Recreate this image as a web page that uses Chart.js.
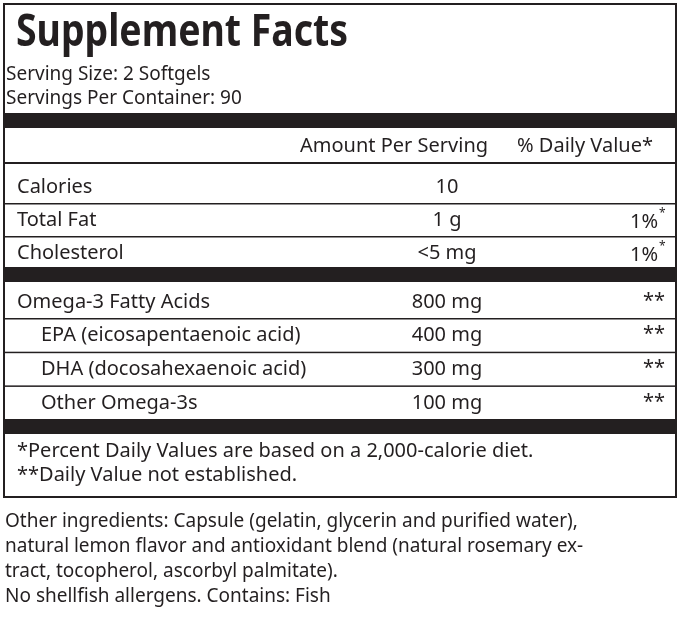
<!DOCTYPE html>
<html>
<head>
<meta charset="utf-8">
<script src="https://cdn.jsdelivr.net/npm/chart.js@4"></script>
<style>
  html, body { margin: 0; padding: 0; background: #fff; }
  #label { display: block; }
</style>
</head>
<body>
<canvas id="label" width="679" height="619"></canvas>
<script>
const title = "Supplement Facts";
const servingLines = ["Serving Size: 2 Softgels", "Servings Per Container: 90"];
const headerCols = ["Amount Per Serving", "% Daily Value*"];

const groupOneNames = ["Calories", "Total Fat", "Cholesterol"];
const groupOneAmounts = ["10", "1 g", "<5 mg"];
const groupOneDaily = ["", "1%", "1%"];

const groupTwoNames = ["Omega-3 Fatty Acids", "EPA (eicosapentaenoic acid)", "DHA (docosahexaenoic acid)", "Other Omega-3s"];
const groupTwoAmounts = ["800 mg", "400 mg", "300 mg", "100 mg"];
const groupTwoDaily = ["**", "**", "**", "**"];
const groupTwoIndent = [false, true, true, true];

const footnotes = ["*Percent Daily Values are based on a 2,000-calorie diet.", "**Daily Value not established."];
const ingredients = [
  "Other ingredients: Capsule (gelatin, glycerin and purified water),",
  "natural lemon flavor and antioxidant blend (natural rosemary ex-",
  "tract, tocopherol, ascorbyl palmitate).",
  "No shellfish allergens. Contains: Fish"
];

const FONT = '"Noto Sans", sans-serif';
const INK = "#231f20";

const labelPlugin = {
  id: "labelPlugin",
  afterDraw(chart) {
    const ctx = chart.ctx;
    ctx.save();
    ctx.fillStyle = "#fff";
    ctx.fillRect(0, 0, 679, 619);
    ctx.fillStyle = INK;
    ctx.strokeStyle = INK;
    ctx.textBaseline = "middle";

    // outer box
    ctx.lineWidth = 2;
    ctx.strokeRect(4, 4, 672, 493);

    ctx.font = "bold 44px " + FONT;
    ctx.textAlign = "left";
    ctx.fillText(title, 16, 33, 332);

    ctx.font = "19px " + FONT;
    ctx.fillText(servingLines[0], 6, 75, 242);
    ctx.fillText(servingLines[1], 6, 99, 264);

    ctx.fillRect(5, 113, 670, 15);

    ctx.font = "20px " + FONT;
    ctx.fillText(headerCols[0], 300, 146, 192);
    ctx.fillText(headerCols[1], 517, 146, 145);
    ctx.fillRect(5, 162, 670, 2);

    function row(name, amt, dv, y, indent, line) {
      ctx.font = "20px " + FONT;
      ctx.textAlign = "left";
      ctx.fillText(name, indent ? 41 : 17, y);
      ctx.textAlign = "center";
      ctx.fillText(amt, 447, y);
      if (dv) {
        if (dv.indexOf("%") >= 0) {
          ctx.textAlign = "right";
          ctx.fillText(dv, 658, y + 2);
          ctx.font = "12px " + FONT;
          ctx.textAlign = "left";
          ctx.fillText("*", 659, y - 6);
        } else {
          ctx.textAlign = "right";
          ctx.fillText(dv, 665, y - 1);
        }
      }
      if (line) ctx.fillRect(5, y + 16, 670, 1.5);
    }

    groupOneNames.forEach((n, i) => {
      row(n, groupOneAmounts[i], groupOneDaily[i], 187 + i * 33, false, i < groupOneNames.length - 1);
    });
    ctx.fillRect(5, 267, 670, 15);
    groupTwoNames.forEach((n, i) => {
      row(n, groupTwoAmounts[i], groupTwoDaily[i], 302 + i * 33.7, groupTwoIndent[i], i < groupTwoNames.length - 1);
    });
    ctx.fillRect(5, 419, 670, 15);

    ctx.font = "20px " + FONT;
    ctx.textAlign = "left";
    ctx.fillText(footnotes[0], 17, 451, 536);
    ctx.fillText(footnotes[1], 17, 475, 286);

    ctx.font = "19px " + FONT;
    const widths = [604, 652, 357, 353];
    ingredients.forEach((t, i) => ctx.fillText(t, 5, 522 + i * 24.7, widths[i]));
    ctx.restore();
  }
};

new Chart(document.getElementById("label"), {
  type: "bar",
  data: { labels: groupOneNames.concat(groupTwoNames), datasets: [] },
  options: {
    responsive: false,
    animation: false,
    plugins: { legend: { display: false }, tooltip: { enabled: false } },
    scales: { x: { display: false }, y: { display: false } }
  },
  plugins: [labelPlugin]
});
</script>
</body>
</html>
